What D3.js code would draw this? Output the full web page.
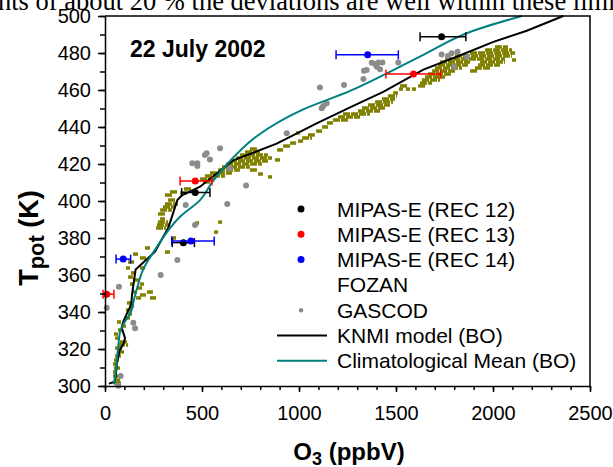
<!DOCTYPE html>
<html>
<head>
<meta charset="utf-8">
<script src="https://d3js.org/d3.v7.min.js"></script>
<style>
body { margin: 0; background: #fff; }
svg { display: block; }
text { font-family: "Liberation Sans", Arial, sans-serif; }
</style>
</head>
<body>
<svg id="chart" width="613" height="467"></svg>
<script>
// axis ticks
var xTicks = [0, 500, 1000, 1500, 2000, 2500];
var yTicks = [300, 320, 340, 360, 380, 400, 420, 440, 460, 480, 500];

// model profiles: [O3 ppbV, Tpot K]
var knmiModel = [[20,301.3],[48,302.2],[55,305],[62,313],[75,319],[98,323.5],[103,326],[86,331.5],[95,335],[112,339],[135,344],[140,350],[158,363],[258,372.6],[328,386],[373,400.5],[395,403],[490,407.7],[661,422],[885,431],[1091,442],[1263,450.6],[1434,459],[1641,471],[1813,478],[2002,486],[2174,492],[2362,500]];
var climMean = [[45,301],[52,305],[62,315],[72,325],[77,329],[88,332],[110,336],[129,339],[150,347],[163,352],[197,363],[266,375],[387,391.5],[490,400.5],[558,411],[661,423.5],[782,435],[1022,449.5],[1263,459.5],[1434,468],[1641,479],[1898,492],[2148,500]];

// MIPAS-E: [O3, Tpot, errLow, errHigh]
var rec12 = [[1735,488.8,1624,1860],[465,404.6,395,541],[404,377.5,347,461]];
var rec13 = [[9,349.6,-10,46],[465,410.8,387,551],[1590,468.6,1448,1730]];
var rec14 = [[94,368.6,57,132],[443,378.4,344,563],[1354,479,1191,1512]];

// FOZAN track pieces: [Tpot, O3 from, O3 to]
var fozanRuns = [
[301.6,46,82],[303.2,57,77],[305.4,41,67],[307.6,41,62],[309.7,46,77],[311.9,41,62],[314.0,46,72],[316.2,52,82],[318.4,62,98],[320.5,52,88],[322.2,67,119],[323.8,77,113],[325.9,52,77],[328.1,46,67],[330.3,67,82],[332.4,82,108],[334.6,62,82],[336.8,103,129],[338.9,119,134],[341.1,108,139],[343.2,124,150],[344.9,113,144],[347.6,160,186],[347.6,232,263],[349.2,180,211],[350.8,144,165],[350.8,216,247],[353.0,165,191],[355.1,129,150],[355.1,180,201],[357.3,144,175],[358.9,119,144],[361.1,134,155],[363.8,108,129],[363.8,180,206],[367.0,119,150],[369.2,180,211],[371.3,144,170],[372.4,309,335],[374.6,206,232],[380.0,340,366],
[383.2,562,583],[385.4,263,314],[387.0,268,335],[388.1,464,485],[388.6,273,325],[388.6,583,603],[390.3,284,309],[393.0,273,314],[395.1,284,345],[396.7,299,361],[398.4,309,376],[400.5,325,366],[403.2,309,345],[404.3,387,428],[404.9,335,376],[406.5,407,448],
[410.3,505,541],[411.9,490,567],[413.0,840,861],[413.5,515,619],[414.6,789,814],[415.1,541,655],[416.7,583,696],[416.7,747,789],[418.4,603,747],[420.0,624,809],[421.6,644,840],[422.2,876,902],[423.2,675,861],[424.9,696,840],[426.5,722,799],[428.1,747,789],
[427.6,887,918],[429.7,918,954],[431.3,954,985],[432.4,995,1021],[434.1,1016,1067],[435.7,1046,1083],[436.8,985,1005],[437.8,1088,1119],[440.0,1119,1150],[442.2,1144,1175],[443.8,1175,1253],[445.4,1201,1315],[447.0,1227,1366],[448.6,1304,1418],[450.3,1325,1443],[451.9,1356,1469],[453.5,1392,1485],[455.1,1428,1495],[456.8,1459,1505],[458.4,1485,1510],[460.5,1515,1536],[460.5,1551,1572],[460.5,1582,1603],[462.2,1521,1562],
[462.2,1614,1650],[463.8,1624,1686],[465.4,1634,1727],[467.0,1650,1753],[468.6,1665,1789],[470.3,1686,1804],[470.3,1882,1923],[471.9,1701,1840],[471.9,1907,1985],[473.5,1717,1871],[473.5,1923,2036],[475.1,1727,1882],[475.1,1933,2062],[476.2,2098,2119],[476.7,1753,2062],[478.4,1804,2098],[480.0,1882,2114],[481.6,1959,2098],[483.2,2010,2077]
];

// GASCOD: [O3, Tpot]
var gascod = [[1108,461.4],[1232,462.7],[1125,451.3],[1143,452.8],[1117,450.1],[937,436.6],[593,428.5],[515,424.9],[524,425.8],[541,422.5],[450,420.4],[476,420.4],[476,418.9],[644,417.7],[727,408.4],[1332,465.9],[1335,470.4],[1349,470.8],[1375,474.7],[1392,474],[1409,474.9],[1430,474.9],[1401,472.6],[1418,471.2],[1512,474.9],[1735,479.2],[1768,478.4],[1787,479.8],[1817,480.7],[1799,472.6],[1865,478],[630,398.4],[416,397.8],[464,387],[373,368.1],[287,360],[72,353.7],[9,342.3],[146,334.2],[155,331.2],[81,305.4],[69,300.2]];

var legendLabels = ["MIPAS-E (REC 12)", "MIPAS-E (REC 13)", "MIPAS-E (REC 14)", "FOZAN", "GASCOD", "KNMI model (BO)", "Climatological Mean (BO)"];
var legendKeys = ["dot", "dot", "dot", "none", "small", "line", "line"];
var legendColors = ["#000000", "#ff0000", "#0000ff", "#808000", "#8c8c8c", "#000000", "#008080"];

var pageText = "nts of about 20 % the deviations are well within these limi";


var svg = d3.select("#chart");
var x = d3.scaleLinear().domain([0, 2500]).range([105, 590]);
var y = d3.scaleLinear().domain([300, 500]).range([386, 16]);

// text of the page above the figure
svg.append("text")
	.attr("x", -2)
	.attr("y", 10)
	.style("font-family", "'Liberation Serif', 'Times New Roman', serif")
	.style("font-size", "26.5px")
	.text(pageText);

// FOZAN dashes
svg.append("g").selectAll("line").data(fozanRuns).join("line")
	.attr("x1", function(d){ return x(d[1]); })
	.attr("x2", function(d){ return Math.max(x(d[2]), x(d[1]) + 4); })
	.attr("y1", function(d){ return y(d[0]); })
	.attr("y2", function(d){ return y(d[0]); })
	.style("stroke", "#808000")
	.style("stroke-width", 3.5)
	.style("stroke-dasharray", "7,1");

// GASCOD
svg.append("g").selectAll("circle").data(gascod).join("circle")
	.attr("cx", function(d){ return x(d[0]); })
	.attr("cy", function(d){ return y(d[1]); })
	.attr("r", 3)
	.style("fill", "#8c8c8c");

var line = d3.line()
	.x(function(d){ return x(d[0]); })
	.y(function(d){ return y(d[1]); });

svg.append("path").datum(knmiModel)
	.attr("d", line)
	.style("fill", "none")
	.style("stroke", "#000")
	.style("stroke-width", 2);

svg.append("path").datum(climMean)
	.attr("d", line.curve(d3.curveMonotoneY))
	.style("fill", "none")
	.style("stroke", "#008080")
	.style("stroke-width", 2);

function drawMipas(data, color)
{
	var g = svg.append("g").style("stroke", color).style("stroke-width", 1.5);
	data.forEach(function(d)
	{
		g.append("line").attr("x1", x(d[2])).attr("x2", x(d[3])).attr("y1", y(d[1])).attr("y2", y(d[1]));
		g.append("line").attr("x1", x(d[2])).attr("x2", x(d[2])).attr("y1", y(d[1]) - 4.5).attr("y2", y(d[1]) + 4.5);
		g.append("line").attr("x1", x(d[3])).attr("x2", x(d[3])).attr("y1", y(d[1]) - 4.5).attr("y2", y(d[1]) + 4.5);
		g.append("circle").attr("cx", x(d[0])).attr("cy", y(d[1])).attr("r", 3.5)
			.style("fill", color).style("stroke", "none");
	});
}
drawMipas(rec12, "#000000");
drawMipas(rec13, "#ff0000");
drawMipas(rec14, "#0000ff");

// axes
svg.append("g").attr("transform", "translate(0,386)")
	.call(d3.axisBottom(x).tickValues(xTicks).tickFormat(d3.format("d")).tickSize(6).tickSizeOuter(0).tickPadding(14));
svg.append("g").attr("transform", "translate(0,386)")
	.call(d3.axisBottom(x).tickValues(d3.range(0, 2501, 100)).tickSize(4).tickFormat(""))
	.select(".domain").remove();
svg.append("g").attr("transform", "translate(105,0)")
	.call(d3.axisLeft(y).tickValues(yTicks).tickFormat(d3.format("d")).tickSize(7).tickSizeOuter(0).tickPadding(7));
svg.append("g").attr("transform", "translate(105,0)")
	.call(d3.axisLeft(y).tickValues(d3.range(300, 501, 10)).tickSize(5).tickFormat(""))
	.select(".domain").remove();

svg.selectAll(".tick text").style("font-size", "20px").style("font-family", "'Liberation Sans', Arial, sans-serif").style("fill", "#000");
svg.selectAll(".tick line").style("stroke-width", 1.5);
svg.selectAll(".domain").style("stroke-width", 1.5);

// frame top and right
svg.append("path")
	.attr("d", "M" + x(0) + "," + y(500) + "H" + x(2500) + "V" + y(300))
	.style("fill", "none")
	.style("stroke", "#000")
	.style("stroke-width", 1.5);

// axis titles
var xt = svg.append("text")
	.attr("x", 349).attr("y", 460)
	.attr("text-anchor", "middle")
	.style("font-size", "24px").style("font-weight", "bold");
xt.append("tspan").text("O");
xt.append("tspan").attr("dy", 5).style("font-size", "18px").text("3");
xt.append("tspan").attr("dy", -5).text(" (ppbV)");

var yt = svg.append("text")
	.attr("transform", "translate(38,238) rotate(-90)")
	.attr("text-anchor", "middle")
	.style("font-size", "27px").style("font-weight", "bold");
yt.append("tspan").text("T");
yt.append("tspan").attr("dy", 6).style("font-size", "22px").text("pot");
yt.append("tspan").attr("dy", -6).text(" (K)");

svg.append("text")
	.attr("x", 130).attr("y", 57)
	.style("font-size", "23px").style("font-weight", "bold")
	.text("22 July 2002");

// legend
var legend = svg.append("g");
legendLabels.forEach(function(label, i)
{
	var cy = 209 + i * 25.3;
	if (legendKeys[i] == "dot")
	{
		legend.append("circle").attr("cx", 301).attr("cy", cy).attr("r", 3.5).style("fill", legendColors[i]);
	}
	else if (legendKeys[i] == "small")
	{
		legend.append("circle").attr("cx", 301).attr("cy", cy).attr("r", 2.2).style("fill", legendColors[i]);
	}
	else if (legendKeys[i] == "line")
	{
		legend.append("line").attr("x1", 277).attr("x2", 327).attr("y1", cy).attr("y2", cy)
			.style("stroke", legendColors[i]).style("stroke-width", 2);
	}
	legend.append("text")
		.attr("x", 337).attr("y", cy + 7.5)
		.style("font-size", "21px")
		.text(label);
});
</script>
</body>
</html>
